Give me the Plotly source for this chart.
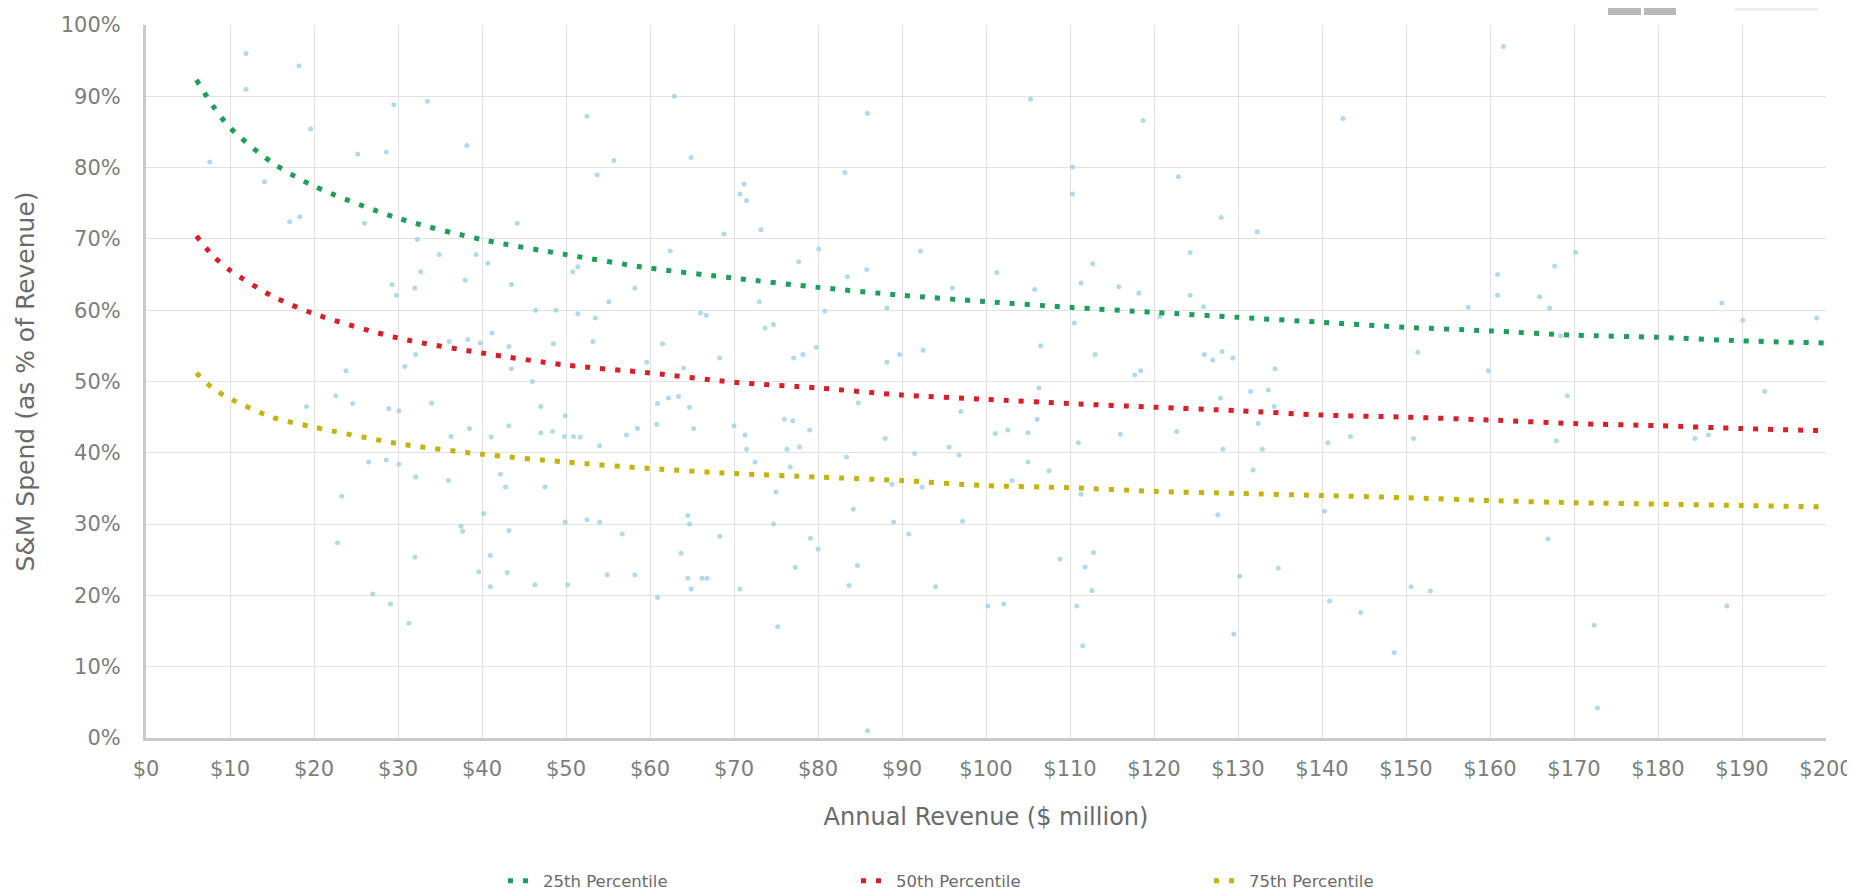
import plotly.graph_objects as go

# ---- percentile curves ----
curve_x = [6, 8, 10, 15, 20, 30, 40, 50, 60, 70, 80, 90, 100, 110, 120, 130, 140, 150, 160, 170, 180, 190, 200]
p25 = [92.3, 88.6, 85.6, 80.7, 77.4, 72.9, 69.9, 67.8, 65.9, 64.5, 63.2, 62.1, 61.2, 60.4, 59.7, 59.0, 58.3, 57.6, 57.1, 56.5, 56.2, 55.7, 55.4]
p50 = [70.4, 67.6, 65.6, 62.0, 59.5, 56.1, 54.0, 52.3, 51.2, 49.9, 49.1, 48.1, 47.5, 46.9, 46.4, 45.9, 45.3, 45.0, 44.6, 44.1, 43.8, 43.4, 43.1]
p75 = [51.2, 49.0, 47.6, 45.0, 43.6, 41.3, 39.8, 38.7, 37.8, 37.1, 36.6, 36.1, 35.4, 35.1, 34.6, 34.3, 34.0, 33.7, 33.3, 33.0, 32.8, 32.6, 32.4]

# ---- company scatter (annual revenue $M, S&M spend %) ----
rev = [11.9, 18.2, 11.9, 7.6, 29.5, 33.5, 19.6, 25.2, 28.6, 14.1, 38.2, 52.5, 62.9, 55.7, 53.7, 64.9,
       17.1, 18.3, 26.0, 44.2, 62.4, 32.3, 34.9, 39.3, 40.7, 32.7, 29.3, 29.8, 32.0, 38.0, 43.5, 50.8,
       51.4, 58.2, 55.1, 46.4, 48.8, 51.4, 53.5, 66.0, 38.3, 39.8, 41.2, 48.5, 53.2, 61.5, 59.6, 43.2,
       32.1, 30.8, 23.8, 43.5, 64.0, 36.1,
       85.9, 105.3, 118.7, 83.2, 110.3, 110.3, 122.9, 128.0, 71.2, 70.7, 71.5, 68.8, 73.2, 132.3, 80.1,
       77.7, 92.2, 85.8, 83.5, 101.3, 124.3, 112.7, 111.3, 115.8, 118.2, 105.8, 96.0, 124.3, 125.9, 73.0,
       80.8, 88.2, 66.7, 110.5, 120.7, 73.7, 74.7, 79.8, 77.1, 78.2, 68.3, 88.2, 89.7, 92.5, 106.5, 113.0,
       126.0, 127.0, 128.1, 129.4, 117.7, 118.4,
       161.6, 142.5, 170.2, 167.7, 160.9, 160.9, 165.9, 157.4, 167.1, 187.6, 190.1, 198.9, 168.4, 151.4,
       134.4, 159.8,
       22.6, 19.1, 24.6, 28.9, 30.1, 34.0, 46.0, 47.0, 49.9, 43.2, 38.5, 36.3, 41.1, 47.0, 48.4, 49.8,
       50.9, 51.7, 57.2, 58.5, 60.9, 62.2, 63.4, 64.7, 60.8, 65.2, 54.0, 26.5, 28.6, 30.1, 32.1, 36.0,
       42.2, 42.8, 47.5, 23.3, 40.2, 37.5, 37.7, 43.2, 49.9, 52.5, 54.0, 56.7, 64.5, 64.7, 22.8, 32.0,
       41.0, 63.7, 39.6, 43.0, 54.9, 58.2, 64.5, 66.2, 64.9, 41.0, 46.3, 50.2, 27.0, 29.1, 31.3, 60.9,
       70.0, 71.3, 71.5, 72.5, 76.0, 77.0, 79.0, 76.3, 77.8, 76.7, 84.8, 88.0, 83.4, 91.5, 95.6, 96.8,
       97.0, 101.1, 102.6, 105.0, 106.1, 106.3, 111.0, 116.0, 122.7, 127.9, 131.5, 132.4, 128.2, 131.8,
       132.9, 105.0, 107.5, 75.0, 88.8, 92.4, 103.1, 111.3, 127.6, 84.2, 74.7, 89.0, 97.2, 68.3, 90.8,
       79.1, 80.0, 108.8, 112.8, 111.8, 112.6, 77.3, 84.7, 83.7, 66.8, 70.7, 94.0, 130.2, 100.2, 102.1,
       110.8, 75.2, 111.5, 129.5, 85.9,
       133.6, 134.3, 140.7, 143.4, 150.9, 169.2, 167.9, 192.7, 184.4, 186.0, 140.3, 134.8, 140.9, 144.6,
       150.6, 152.9, 166.9, 148.6, 172.4, 188.2, 172.8]
spend = [96.0, 94.3, 91.0, 80.8, 88.8, 89.3, 85.4, 81.9, 82.2, 78.0, 83.1, 87.2, 90.0, 81.0, 79.0, 81.4,
         72.4, 73.1, 72.2, 72.2, 68.3, 69.9, 67.8, 67.8, 66.6, 65.4, 63.6, 62.1, 63.1, 64.2, 63.6, 65.4,
         66.1, 63.1, 61.2, 60.0, 60.0, 59.5, 58.9, 59.6, 55.9, 55.4, 56.8, 55.3, 55.6, 55.3, 52.7, 54.9,
         53.8, 52.1, 51.5, 51.8, 51.9, 55.6,
         87.6, 89.6, 86.6, 79.3, 80.1, 76.3, 78.7, 73.0, 77.7, 76.3, 75.4, 70.7, 71.3, 71.0, 68.6,
         66.8, 68.3, 65.7, 64.7, 65.3, 68.1, 66.5, 63.8, 63.3, 62.4, 62.9, 63.1, 62.1, 60.5, 61.2,
         59.9, 60.3, 59.3, 58.2, 59.1, 57.5, 58.0, 54.8, 53.3, 53.8, 53.3, 52.7, 53.8, 54.4, 55.0, 53.8,
         53.8, 53.0, 54.2, 53.3, 50.9, 51.5,
         97.0, 86.9, 68.1, 66.2, 65.0, 62.1, 61.9, 60.4, 60.3, 61.0, 58.6, 58.9, 56.4, 54.1,
         51.8, 51.5,
         48.0, 46.5, 46.9, 46.2, 45.9, 47.0, 50.0, 46.5, 45.2, 43.8, 43.4, 42.3, 42.2, 42.8, 43.0, 42.3,
         42.3, 42.2, 42.5, 43.4, 46.9, 47.7, 47.9, 46.4, 44.0, 43.4, 41.0, 38.7, 39.0, 38.4, 36.6, 36.1,
         37.0, 35.2, 35.2, 33.9, 31.5, 29.7, 29.0, 29.1, 30.3, 30.6, 30.3, 28.6, 31.2, 30.0, 27.4, 25.4,
         25.6, 25.9, 23.3, 23.2, 22.9, 22.9, 22.4, 22.4, 20.9, 21.2, 21.5, 21.5, 20.2, 18.8, 16.1, 19.7,
         43.8, 42.5, 40.5, 38.7, 44.7, 44.5, 43.2, 40.5, 40.8, 38.0, 47.0, 42.0, 39.4, 39.9, 40.8, 39.7,
         45.8, 42.7, 43.2, 42.8, 44.7, 49.1, 41.4, 42.6, 43.0, 47.7, 48.6, 44.1, 40.5, 37.6,
         40.5, 38.7, 37.5, 34.5, 35.6, 35.2, 36.1, 34.2, 31.3, 32.1, 30.0, 30.3, 30.4, 28.3, 28.6,
         28.0, 26.5, 25.1, 26.0, 24.0, 20.7, 23.9, 24.2, 21.4, 22.4, 20.9, 21.2, 22.7, 18.5, 18.8,
         18.5, 15.6, 12.9, 14.6, 1.0,
         48.8, 46.5, 41.4, 42.3, 42.0, 48.0, 41.7, 48.6, 42.0, 42.5, 31.8, 23.8, 19.2, 17.6,
         21.2, 20.6, 27.9, 12.0, 15.8, 18.5, 4.2]

x_ticks = list(range(0, 201, 10))
x_ticktext = ["$" + str(v) for v in x_ticks]
y_ticks = list(range(0, 101, 10))
y_ticktext = [str(v) + "%" for v in y_ticks]

FONT = "DejaVu Sans"
GRAY = "#7d7d7d"

TOP, BOT = 17, 730  # plot area top/bottom in pixels

fig = go.Figure()

fig.add_trace(go.Scatter(
    x=rev, y=spend, mode="markers", showlegend=False, hoverinfo="x+y",
    marker=dict(size=5, color="rgba(150,205,230,0.75)", line=dict(width=0)),
))

series = [
    ("25th Percentile", p25, "#1f9e5a"),
    ("50th Percentile", p50, "#d81e28"),
    ("75th Percentile", p75, "#c4b20e"),
]
for name, vals, col in series:
    fig.add_trace(go.Scatter(
        x=curve_x, y=vals, mode="lines", name=name,
        line=dict(color=col, width=5, dash="5px,10px", shape="spline", smoothing=0.8),
    ))

fig.update_layout(
    width=1855, height=895,
    margin=dict(l=138, r=37, t=TOP, b=895 - BOT, autoexpand=False),
    paper_bgcolor="white", plot_bgcolor="white",
    font=dict(family=FONT, size=21, color=GRAY),
    showlegend=True,
    legend=dict(
        orientation="h", xref="container", x=495 / 1855, xanchor="left",
        yref="container", y=1 - 873 / 895, yanchor="middle",
        font=dict(family=FONT, size=16.5, color="#6a6a6a"),
        entrywidth=308, entrywidthmode="pixels", itemwidth=30,
    ),
    xaxis=dict(
        range=[0, 200], tickvals=x_ticks, ticktext=x_ticktext,
        showgrid=True, gridcolor="#e2e2e2", gridwidth=1,
        showline=True, linecolor="#c9c9c9", linewidth=3,
        zeroline=False, ticks="", ticklabelstandoff=10,
        tickfont=dict(family=FONT, size=21, color=GRAY),
        title=dict(text="Annual Revenue ($ million)", standoff=28,
                   font=dict(family=FONT, size=24, color="#6a6a6a")),
        automargin=False,
    ),
    yaxis=dict(
        range=[0, 100], tickvals=y_ticks, ticktext=y_ticktext,
        showgrid=True, gridcolor="#e2e2e2", gridwidth=1,
        showline=True, linecolor="#c9c9c9", linewidth=3,
        zeroline=False, ticks="", ticklabelstandoff=18,
        tickfont=dict(family=FONT, size=21, color=GRAY),
        title=dict(text="S&M Spend (as % of Revenue)", standoff=20,
                   font=dict(family=FONT, size=25, color="#6a6a6a")),
        automargin=False,
    ),
    shapes=[
        dict(type="rect", xref="paper", yref="paper",
             x0=(1600 - 138) / 1680, x1=(1633 - 138) / 1680,
             y0=(BOT - 7) / (BOT - TOP), y1=(BOT - 0) / (BOT - TOP),
             fillcolor="#b8b8b8", line=dict(width=0)),
        dict(type="rect", xref="paper", yref="paper",
             x0=(1636 - 138) / 1680, x1=(1668 - 138) / 1680,
             y0=(BOT - 7) / (BOT - TOP), y1=(BOT - 0) / (BOT - TOP),
             fillcolor="#b8b8b8", line=dict(width=0)),
        dict(type="rect", xref="paper", yref="paper",
             x0=(1727 - 138) / 1680, x1=(1810 - 138) / 1680,
             y0=(BOT - 3) / (BOT - TOP), y1=(BOT - 0) / (BOT - TOP),
             fillcolor="#ededed", line=dict(width=0)),
    ],
)

fig.write_html("out.html")
